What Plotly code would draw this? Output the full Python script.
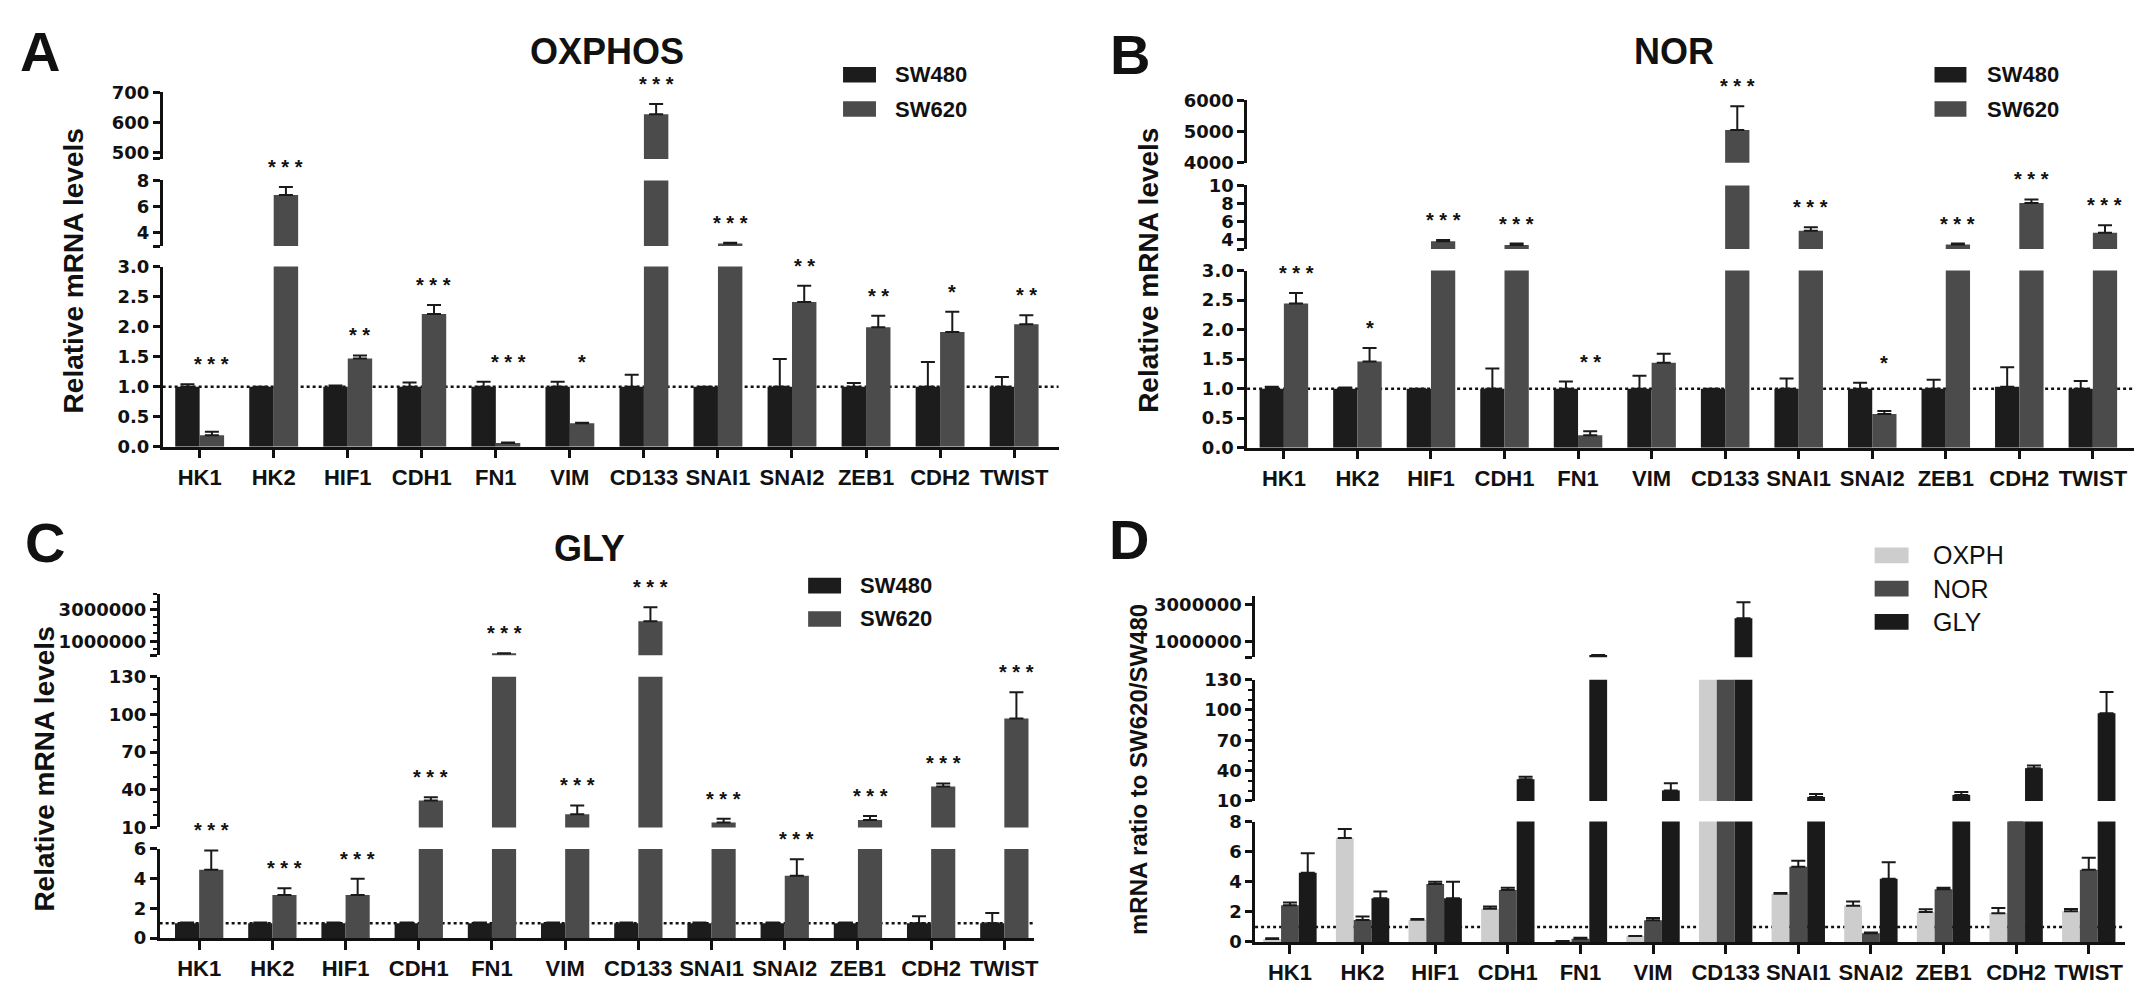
import plotly.graph_objects as go

W, H = 2150, 987
FONT = 'Liberation Sans, Arial, sans-serif'
TICKFONT = 'DejaVu Sans, sans-serif'

genes = ['HK1', 'HK2', 'HIF1', 'CDH1', 'FN1', 'VIM', 'CD133', 'SNAI1', 'SNAI2', 'ZEB1', 'CDH2', 'TWIST']

# A - OXPHOS
oxphos_sw480 = [1.0, 1.0, 1.0, 1.0, 1.0, 1.0, 1.0, 1.0, 1.0, 1.0, 1.0, 1.0]
oxphos_sw480_err = [0.04, 0.0, 0.02, 0.07, 0.08, 0.08, 0.2, 0.0, 0.46, 0.06, 0.41, 0.16]
oxphos_sw620 = [0.19, 6.9, 1.47, 2.21, 0.06, 0.39, 628, 3.2, 2.41, 1.99, 1.91, 2.04]
oxphos_sw620_err = [0.06, 0.6, 0.05, 0.15, 0.01, 0.01, 34, 0.05, 0.27, 0.19, 0.34, 0.15]
oxphos_stars = ['***', '***', '**', '***', '***', '*', '***', '***', '**', '**', '*', '**']

# B - NOR
nor_sw480 = [1.0, 1.0, 1.0, 1.0, 1.0, 1.0, 1.0, 1.0, 1.0, 1.0, 1.03, 1.0]
nor_sw480_err = [0.03, 0.02, 0.0, 0.34, 0.12, 0.22, 0.0, 0.17, 0.1, 0.15, 0.33, 0.13]
nor_sw620 = [2.44, 1.46, 3.85, 3.45, 0.21, 1.44, 5050, 5.0, 0.57, 3.5, 8.05, 4.8]
nor_sw620_err = [0.18, 0.23, 0.15, 0.15, 0.07, 0.15, 760, 0.4, 0.05, 0.1, 0.4, 0.8]
nor_stars = ['***', '*', '***', '***', '**', '', '***', '***', '*', '***', '***', '***']

# C - GLY
gly_sw480 = [1.0, 1.0, 1.0, 1.0, 1.0, 1.0, 1.0, 1.0, 1.0, 1.0, 1.0, 1.0]
gly_sw480_err = [0.05, 0.05, 0.05, 0.05, 0.05, 0.05, 0.05, 0.05, 0.05, 0.05, 0.47, 0.69]
gly_sw620 = [4.6, 2.9, 2.9, 31.5, 260000, 20.5, 2270000, 14, 4.2, 16, 42.5, 96.7]
gly_sw620_err = [1.3, 0.45, 1.1, 2.5, 0, 7, 870000, 3, 1.1, 3, 2.5, 21]
gly_stars = ['***', '***', '***', '***', '***', '***', '***', '***', '***', '***', '***', '***']

c_sw480 = '#1c1c1c'
c_sw620 = '#4b4b4b'


def px_x(v):
    return v / W


def px_y(v):
    return 1 - v / H


fig = go.Figure()
annotations = []
shapes = []

# panel geometry (pixels): x axis span, category range, y segments (bottom px, top px, range, ticks, labels, minor)
panels = [
    dict(x='x', ys=['y', 'y2', 'y3'], xpx=(155, 1053), xr=[-0.5, 11.6],
         segs=[(437, 253, [0, 3], [0, 0.5, 1, 1.5, 2, 2.5, 3], ['0.0', '0.5', '1.0', '1.5', '2.0', '2.5', '3.0'], None),
               (232, 165, [3, 8], [3, 4, 6, 8], ['', '4', '6', '8'], None),
               (143, 75, [480, 700], [480, 500, 600, 700], ['', '500', '600', '700'], None)]),
    dict(x='x2', ys=['y4', 'y5', 'y6'], xpx=(1242, 2131), xr=[-0.5, 11.56],
         segs=[(438, 257, [0, 3], [0, 0.5, 1, 1.5, 2, 2.5, 3], ['0.0', '0.5', '1.0', '1.5', '2.0', '2.5', '3.0'], None),
               (235, 170, [3, 10], [3, 4, 6, 8, 10], ['', '4', '6', '8', '10'], None),
               (147, 83, [4000, 6000], [4000, 5000, 6000], ['4000', '5000', '6000'], None)]),
    dict(x='x3', ys=['y7', 'y8', 'y9'], xpx=(152, 1028), xr=[-0.54, 11.4],
         segs=[(939, 848, [0, 6], [0, 2, 4, 6], ['0', '2', '4', '6'], None),
               (826, 672, [10, 130], [10, 40, 70, 100, 130], ['10', '40', '70', '100', '130'], 10),
               (650, 587, [140000, 4000000], [140000, 1000000, 3000000], ['', '1000000', '3000000'], 500000)]),
    dict(x='x4', ys=['y10', 'y11', 'y12'], xpx=(1250, 2122), xr=[-0.48, 11.5],
         segs=[(943, 820, [0, 8], [0, 2, 4, 6, 8], ['0', '2', '4', '6', '8'], None),
               (799, 675, [10, 130], [10, 40, 70, 100, 130], ['10', '40', '70', '100', '130'], 10),
               (652, 590, [150000, 3450000], [150000, 1000000, 3000000], ['', '1000000', '3000000'], None)]),
]

axis_line = dict(showline=True, linecolor='#111111', linewidth=2.5, ticks='outside', tickcolor='#111111',
                 tickwidth=2.5, showgrid=False, zeroline=False, fixedrange=True)

for p in panels:
    xkey = 'xaxis' + p['x'][1:]
    fig.layout[xkey] = dict(domain=[px_x(p['xpx'][0]), px_x(p['xpx'][1])], anchor=p['ys'][0],
                            type='category', categoryorder='array', categoryarray=genes,
                            range=p['xr'], ticklen=9,
                            tickfont=dict(family=FONT, size=22, color='#111111', weight='bold'),
                            **axis_line)
    for ya, (b, t, rng, tv, tt, minor) in zip(p['ys'], p['segs']):
        ykey = 'yaxis' + ya[1:]
        d = dict(domain=[px_y(b), px_y(t)], anchor=p['x'], range=rng, tickmode='array',
                 tickvals=tv, ticktext=tt, ticklen=7,
                 tickfont=dict(family=TICKFONT, size=18, color='#111111', weight='bold'), **axis_line)
        if minor:
            d['minor'] = dict(dtick=minor, tick0=0, ticklen=4, tickwidth=2, ticks='outside', tickcolor='#111111')
        fig.layout[ykey] = d
    # dotted reference line at 1
    shapes.append(dict(type='line', xref=p['x'] + ' domain', yref=p['ys'][0], x0=0, x1=1, y0=1, y1=1,
                       line=dict(color='#111111', width=2.5, dash='dot'), layer='below'))


def add_bars(p, values, errs, colors, width, offsets):
    for ya in p['ys']:
        for v, e, c, off in zip(values, errs, colors, offsets):
            fig.add_trace(go.Bar(
                x=genes, y=v, width=width, offset=off, marker=dict(color=c, line=dict(width=0)),
                xaxis=p['x'], yaxis=ya, showlegend=False,
                error_y=dict(type='data', array=e, arrayminus=[0] * len(e), symmetric=False,
                             color='#1a1a1a', thickness=2, width=7)))


def add_stars(p, stars, tops, xoff):
    for i, (s, top) in enumerate(zip(stars, tops)):
        if not s:
            continue
        for ya, seg in zip(p['ys'], p['segs']):
            if seg[2][0] <= top <= seg[2][1]:
                annotations.append(dict(x=i + xoff, y=top, xref=p['x'], yref=ya, text=' '.join(s),
                                        showarrow=False, yshift=20, yanchor='middle',
                                        font=dict(family=FONT, size=20, color='#111111', weight='bold')))
                break


sets = [
    (oxphos_sw480, oxphos_sw480_err, oxphos_sw620, oxphos_sw620_err, oxphos_stars),
    (nor_sw480, nor_sw480_err, nor_sw620, nor_sw620_err, nor_stars),
    (gly_sw480, gly_sw480_err, gly_sw620, gly_sw620_err, gly_stars),
]
for p, (v1, e1, v2, e2, st) in zip(panels[:3], sets):
    add_bars(p, [v1, v2], [e1, e2], [c_sw480, c_sw620], 0.33, [-0.33, 0])
    tops = [max(a + b, c + d) for a, b, c, d in zip(v1, e1, v2, e2)]
    add_stars(p, st, tops, 0.165)

# D - ratio SW620/SW480 for each condition
add_bars(panels[3], [oxphos_sw620, nor_sw620, gly_sw620], [oxphos_sw620_err, nor_sw620_err, gly_sw620_err],
         ['#cdcdcd', '#4b4b4b', '#1a1a1a'], 0.245, [-0.3675, -0.1225, 0.1225])

# panel letters and titles
for txt, x, y, size in [('A', 32, 33, 56), ('B', 1125, 36, 56), ('C', 37, 535, 56), ('D', 1124, 532, 56),
                        ('OXPHOS', 600, 33, 36), ('NOR', 1670, 33, 36), ('GLY', 583, 541, 36)]:
    annotations.append(dict(x=px_x(x), y=px_y(y), xref='paper', yref='paper', text=txt, showarrow=False,
                            xanchor='center', yanchor='middle',
                            font=dict(family=FONT, size=size, color='#111111', weight='bold')))

# y axis titles
for txt, x, y, size in [('Relative mRNA levels', 66, 257, 28), ('Relative mRNA levels', 1143, 257, 28),
                        ('Relative mRNA levels', 37, 766, 28), ('mRNA ratio to SW620/SW480', 1133, 767, 24)]:
    annotations.append(dict(x=px_x(x), y=px_y(y), xref='paper', yref='paper', text=txt, showarrow=False,
                            textangle=-90, xanchor='center', yanchor='middle',
                            font=dict(family=FONT, size=size, color='#111111', weight='bold')))

# legends
legends = [
    (837, 870, 887, [(57, 'SW480', c_sw480), (92, 'SW620', c_sw620)], 22, 'bold'),
    (1931, 1963, 1982, [(57, 'SW480', c_sw480), (92, 'SW620', c_sw620)], 22, 'bold'),
    (802, 835, 852, [(579, 'SW480', c_sw480), (613, 'SW620', c_sw620)], 22, 'bold'),
    (1871, 1905, 1927, [(548, 'OXPH', '#cdcdcd'), (582, 'NOR', '#4b4b4b'), (616, 'GLY', '#1a1a1a')], 25, 'normal'),
]
for x0, x1, xt, items, size, weight in legends:
    for yc, name, col in items:
        shapes.append(dict(type='rect', xref='paper', yref='paper', x0=px_x(x0), x1=px_x(x1),
                           y0=px_y(yc + 8), y1=px_y(yc - 8), fillcolor=col, line=dict(width=0)))
        annotations.append(dict(x=px_x(xt), y=px_y(yc), xref='paper', yref='paper', text=name,
                                showarrow=False, xanchor='left', yanchor='middle',
                                font=dict(family=FONT, size=size, color='#111111', weight=weight)))

fig.update_layout(
    width=W, height=H, margin=dict(l=0, r=0, t=0, b=0),
    paper_bgcolor='white', plot_bgcolor='white',
    barmode='overlay', showlegend=False,
    annotations=annotations, shapes=shapes,
    font=dict(family=FONT, color='#111111'),
)

fig.write_html('out.html')
